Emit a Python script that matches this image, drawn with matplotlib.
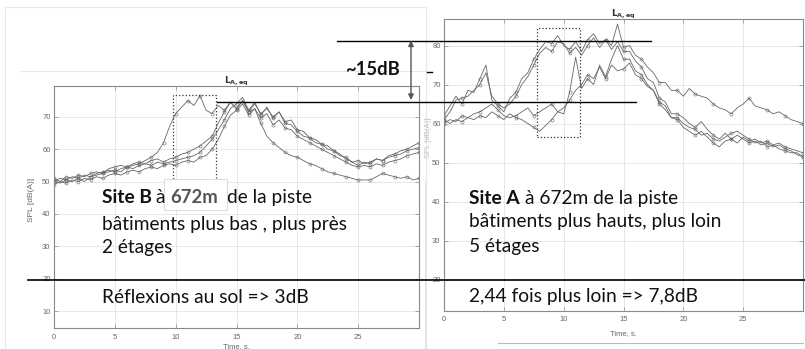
import matplotlib
matplotlib.use("Agg")
import matplotlib.pyplot as plt
from matplotlib.patches import Rectangle

# time axis (s), one value every 0.5 s
t = [i * 0.5 for i in range(61)]

# Site B (left panel), L_A,eq in dB(A)
site_b_1 = [50.5, 49.5, 50.5, 50, 51, 50, 51.5, 52, 52.5, 53, 53.5, 53, 54.5, 55, 55.5, 56.5, 57.5, 59, 62, 67,
            71, 73, 75, 73.5, 76.5, 72, 71, 73.5, 72, 74.5, 72.5, 75, 71.5, 72.5, 68, 64, 62, 60.5, 59, 58,
            57.5, 56.5, 55.5, 55, 54, 53, 52.5, 52, 51.5, 51, 50.5, 50.5, 50.5, 51.5, 52.5, 52, 51.5, 51, 51.5, 50.5,
            51]
site_b_2 = [50, 51, 50.5, 51.5, 51, 52, 51.5, 52.5, 53, 53.5, 53, 54, 54.5, 54, 55, 55.5, 55, 56, 55.5, 56,
            56.5, 57, 57.5, 58, 59, 61, 63, 66, 69, 72.5, 74, 76, 72, 74.5, 70.5, 73, 69.5, 71.5, 68.5, 69,
            66, 65.5, 63.5, 63, 61.5, 61, 59.5, 58.5, 57, 56, 55, 56, 55.5, 57, 56.5, 58, 58.5, 59.5, 60, 61,
            62]
site_b_3 = [49, 50, 49.5, 50.5, 50, 51, 50.5, 51.5, 51, 52, 52.5, 52, 53, 53.5, 53, 54, 54.5, 54, 55, 55.5,
            55, 56, 56.5, 56, 57.5, 58, 60, 63, 67, 70.5, 72, 74, 70.5, 72.5, 69.5, 71, 67.5, 69, 66.5, 66,
            64, 63, 62, 61, 60, 59, 58, 57, 56, 55, 54.5, 55, 54.5, 55.5, 55, 56, 56.5, 57, 58, 58.5,
            59]
site_b_4 = [51, 50, 51.5, 51, 52, 51.5, 52.5, 53, 52.5, 54, 54.5, 55, 54.5, 55.5, 56, 55.5, 56.5, 57, 56, 57,
            57.5, 58.5, 59, 60, 61, 62.5, 64, 68, 71.5, 74.5, 72.5, 75, 71.5, 74, 71, 72.5, 70, 71.5, 68, 67.5,
            65.5, 64, 63.5, 62, 61.5, 60, 59.5, 58, 57.5, 56, 56.5, 55.5, 56, 57, 56.5, 57.5, 58, 58.5, 59.5, 60,
            60.5]

# Site A (right panel)
site_a_1 = [62, 64.5, 67, 65, 68.5, 68, 71.5, 75, 66, 64.5, 63, 66.5, 68, 71.5, 73, 76.5, 79, 81, 80.5, 82.5,
            80, 79, 81, 78.5, 81.5, 83, 80.5, 81.5, 80, 85.5, 79.5, 80, 77.5, 76.5, 74.5, 73, 70.5, 70.5, 68.5, 68.5,
            67, 69, 67.5, 67, 66.5, 65, 64, 63.5, 62.5, 64, 65, 66.5, 64.5, 64, 63.5, 62.5, 63, 62, 61, 60.5,
            60]
site_a_2 = [61, 63, 66, 66.5, 67, 68.5, 70, 73, 67, 65, 64, 65, 67, 70, 72, 75, 78, 79.5, 78.5, 81,
            80.5, 78, 79.5, 77.5, 80, 82, 79.5, 81.5, 79, 81, 78.5, 78.5, 76, 74.5, 71.5, 70.5, 66.5, 65.5, 62.5, 62.5,
            61.5, 60, 59, 60.5, 58.5, 57, 56, 57.5, 56, 55, 56.5, 55.5, 56, 55, 55.5, 54.5, 55, 54, 53.5, 53,
            52.5]
site_a_3 = [61, 60, 61, 60.5, 61.5, 61, 62, 61.5, 63, 62, 61, 62.5, 61.5, 61, 60, 59, 58, 59.5, 61, 63,
            64, 66, 68.5, 70, 72.5, 71.5, 74.5, 71.5, 75, 73.5, 74, 75.5, 72.5, 71.5, 69.5, 68.5, 65.5, 64.5, 61.5, 61,
            59, 58, 57, 58, 56.5, 55, 54, 55.5, 56, 57, 56, 55, 55.5, 54.5, 55, 54, 54.5, 53.5, 53, 52,
            51.5]
site_a_4 = [60, 61, 60.5, 62, 61.5, 62.5, 63, 64, 65, 63.5, 62, 61.5, 62, 63, 64, 62, 63, 64, 65, 63,
            62.5, 68, 77, 69, 71.5, 70, 75, 72, 76.5, 80, 76.5, 76.5, 73.5, 72.5, 70, 68.5, 65, 63.5, 61.5, 61.5,
            60, 59, 58.5, 57, 57.5, 56, 55.5, 56.5, 57.5, 58, 57, 56, 55, 55.5, 54, 54.5, 53.5, 53, 52.5, 52.5,
            51.5]

xticks = [0, 5, 10, 15, 20, 25]
yticks_b = [10, 20, 30, 40, 50, 60, 70]
yticks_a = [20, 30, 40, 50, 60, 70, 80]

# dotted boxes (time range, level range)
box_b = (9.75, 13.35, 45, 76.8)
box_a = (7.75, 11.4, 56.5, 84.6)

W, H = 805, 349
plt.rcParams['font.family'] = ['Liberation Sans', 'DejaVu Sans']

fig = plt.figure(figsize=(W / 100, H / 100), dpi=100)
fig.patch.set_facecolor('white')


def style_axes(ax, yticks, ylim):
    ax.set_xlim(0, 30)
    ax.set_ylim(*ylim)
    ax.set_xticks(xticks)
    ax.set_yticks(yticks)
    ax.grid(True, color='#e3e3e3', lw=0.6)
    ax.set_axisbelow(True)
    ax.tick_params(direction='in', top=True, right=True, length=3, width=0.6,
                   color='#999999', labelcolor='#666666', labelsize=5.5)
    ax.tick_params(axis='x', pad=4)
    ax.tick_params(axis='y', pad=2.5)
    for s in ax.spines.values():
        s.set_color('#888888')
        s.set_linewidth(0.8)
    ax.set_title(r'$\mathbf{L_{A,eq}}$', fontsize=6.5, color='#333333', pad=2)
    ax.set_xlabel('Time, s.', fontsize=5.5, color='#666666')


def draw_curves(ax, curves, every):
    for c in curves:
        ax.plot(t, c, color='#666666', lw=0.6, marker='o', ms=2.2, mfc='none',
                mew=0.4, markevery=every)


def dotted_box(ax, b):
    ax.add_patch(Rectangle((b[0], b[2]), b[1] - b[0], b[3] - b[2], fill=False,
                           ls=':', lw=0.9, ec='#333333', zorder=5))


# left panel: site B
ax_b = fig.add_axes([54 / W, 1 - 328 / H, 365 / W, 242 / H])
style_axes(ax_b, yticks_b, (4.8, 79.5))
draw_curves(ax_b, [site_b_1, site_b_2, site_b_3, site_b_4], 2)
dotted_box(ax_b, box_b)
ax_b.set_ylabel('SPL [dB(A)]', fontsize=6, color='#666666')
ax_b.yaxis.set_label_coords(-0.052, 0.53)
ax_b.xaxis.set_label_coords(0.5, -0.062)

# right panel: site A
ax_a = fig.add_axes([444 / W, 1 - 310.7 / H, 359 / W, 291.7 / H])
style_axes(ax_a, yticks_a, (12, 86.8))
draw_curves(ax_a, [site_a_1, site_a_2, site_a_3, site_a_4], 3)
dotted_box(ax_a, box_a)
ax_a.xaxis.set_label_coords(0.5, -0.066)

# overlay in pixel coordinates for the slide annotations
ov = fig.add_axes([0, 0, 1, 1], zorder=10)
ov.set_xlim(0, W)
ov.set_ylim(H, 0)
ov.axis('off')
ov.patch.set_alpha(0)

# faint frames from the pasted screenshots
ov.add_patch(Rectangle((5, 7), 421, 350, fill=False, ec='#e6e6e6', lw=0.8))
ov.plot([20, 426], [71, 71], color='#e8e8e8', lw=0.8)
ov.plot([427, 432], [72, 72], color='black', lw=1)
ov.plot([425, 425], [180, 349], color='#e6e6e6', lw=0.8)
ov.plot([498, 803], [343, 343], color='#bbbbbb', lw=0.8)
ov.text(428, 138, 'SPL [dB(A)]', rotation=90, fontsize=5.5, color='#bbbbbb',
        ha='center', va='center')

# level difference marker
ov.plot([337, 651], [40.5, 40.5], color='black', lw=1)
ov.plot([217, 636], [102, 102], color='black', lw=1)
ov.annotate('', xy=(411, 40.5), xytext=(411, 100),
            arrowprops=dict(arrowstyle='<|-|>', color='#555555', lw=1,
                            mutation_scale=8, shrinkA=0, shrinkB=0))
ov.text(345, 75, '~15dB', family='Lato', fontweight='bold', fontsize=13.3,
        color='#111111', va='baseline')

# separator line
ov.plot([28, 805], [279.5, 279.5], color='black', lw=1.2)

fs = 13.8
txt = dict(family='Lato', fontsize=fs, color='#111111', va='baseline')

# site B text
ov.text(101.7, 202.7, 'Site B', fontweight='bold', **txt)
ov.text(155, 202.7, 'à', **txt)
ov.add_patch(Rectangle((164, 179), 63, 31, fc='white', ec='#dddddd', lw=0.8))
ov.text(170, 202.7, '672m', family='Lato', fontsize=fs - 0.5, fontweight='bold',
        color='#555555', va='baseline')
ov.text(226.7, 202.7, 'de la piste', **txt)
ov.text(101.7, 230, 'bâtiments plus bas , plus près', **txt)
ov.text(101.7, 252.7, '2 étages', **txt)
ov.text(101.7, 303.3, 'Réflexions au sol => 3dB', **txt)

# site A text
ov.text(469.3, 204, 'Site A', fontweight='bold', **txt)
ov.text(525, 204, 'à 672m de la piste', **txt)
ov.text(469.3, 226.7, 'bâtiments plus hauts, plus loin', **txt)
ov.text(469.3, 252.3, '5 étages', **txt)
ov.text(469.3, 302.3, '2,44 fois plus loin => 7,8dB', **txt)

fig.savefig('out.png', dpi=100)
